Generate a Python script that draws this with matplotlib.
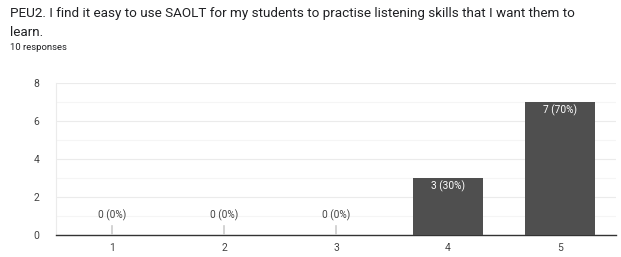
import matplotlib.pyplot as plt

plt.rcParams['font.family'] = ['Roboto', 'DejaVu Sans']

categories = ['1', '2', '3', '4', '5']
counts = [0, 0, 0, 3, 7]
labels = ['0 (0%)', '0 (0%)', '0 (0%)', '3 (30%)', '7 (70%)']

fig = plt.figure(figsize=(6.21, 2.57), dpi=100)
ax = fig.add_axes([56 / 621, 22 / 257, 560 / 621, 152 / 257])

x = list(range(len(categories)))
ax.bar(x, counts, width=0.625, color='#4f4f4f', zorder=3)

for xi, c, lab in zip(x, counts, labels):
    if c == 0:
        # small stub marker for empty bars
        ax.plot([xi, xi], [0, 0.5], color='#cccccc', lw=1.2, zorder=3)
        ax.text(xi, 0.75, lab, ha='center', va='bottom', fontsize=7.3, color='#444444')
    else:
        ax.text(xi, c - 0.12, lab, ha='center', va='top', fontsize=7.3, color='white', zorder=4)

ax.set_xlim(-0.5, 4.5)
ax.set_ylim(0, 8)
ax.set_xticks(x)
ax.set_xticklabels(categories)
ax.set_yticks([0, 2, 4, 6, 8])
ax.set_yticks([1, 3, 5, 7], minor=True)
ax.grid(axis='y', which='major', color='#ebebeb', lw=0.8, zorder=0)
ax.grid(axis='y', which='minor', color='#f5f5f5', lw=0.8, zorder=0)
ax.tick_params(axis='both', which='both', length=0, labelsize=7.5, colors='#444444')
ax.tick_params(axis='y', pad=12)
ax.tick_params(axis='x', pad=6)
for s in ['top', 'right']:
    ax.spines[s].set_visible(False)
ax.spines['left'].set_color('#ebebeb')
ax.spines['left'].set_linewidth(0.8)
ax.spines['bottom'].set_color('#333333')
ax.spines['bottom'].set_linewidth(1.0)

fig.text(10 / 621, 1 - 13 / 257,
         'PEU2. I find it easy to use SAOLT for my students to practise listening skills that I want them to',
         ha='left', va='center', fontsize=9.7, color='#202124')
fig.text(10 / 621, 1 - 33 / 257, 'learn.', ha='left', va='center', fontsize=9.7, color='#202124')
fig.text(10 / 621, 1 - 48 / 257, '10 responses', ha='left', va='center', fontsize=6.8, color='#202124')

plt.savefig('out.png', dpi=100)
plt.close()
